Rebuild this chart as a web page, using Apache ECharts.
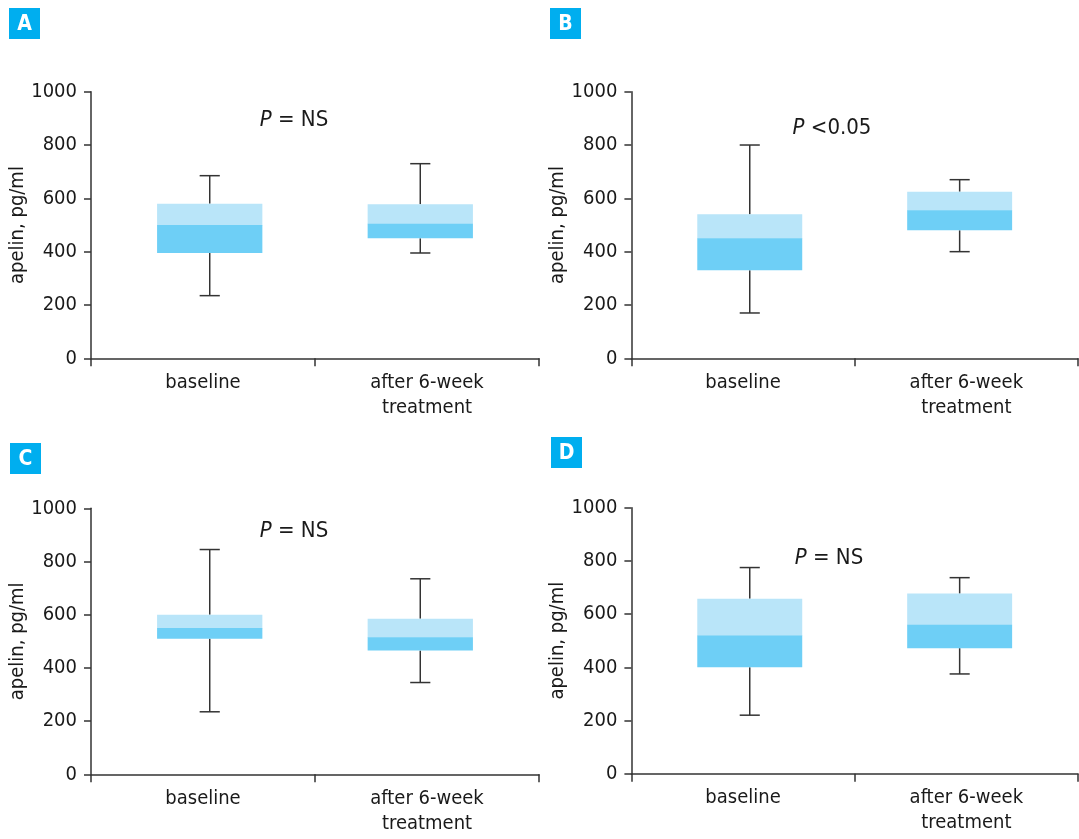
<!DOCTYPE html>
<html>
<head>
<meta charset="utf-8">
<script src="https://cdn.jsdelivr.net/npm/echarts@6/dist/echarts.min.js"></script>
<style>
html,body{margin:0;padding:0;background:#fff;}
#chart{width:1079px;height:839px;}
</style>
</head>
<body>
<div id="chart"></div>
<script>
// ---- data ----
const categories = ['baseline', 'after 6-week\ntreatment'];
const yTicks = [0, 200, 400, 600, 800, 1000];
const panelLetters = ['A', 'B', 'C', 'D'];
const pTexts = ['= NS', '<0.05', '= NS', '= NS'];
// each entry: [whisker low, Q1, median, Q3, whisker high]
const panelA = [[235, 395, 500, 580, 685], [395, 450, 505, 578, 730]];
const panelB = [[170, 330, 450, 540, 800], [400, 480, 555, 625, 670]];
const panelC = [[235, 510, 550, 600, 845], [345, 465, 515, 585, 735]];
const panelD = [[220, 400, 520, 658, 775], [375, 472, 560, 677, 737]];
const panels = [panelA, panelB, panelC, panelD];

// ---- style / layout ----
const FONT = "'DejaVu Sans Condensed', 'Liberation Sans Narrow', 'Arial Narrow', sans-serif";
const TXT = '#1a1a1a';
const AX = '#333333';
const LIGHT = '#b9e5f9';
const DARK = '#6ecff6';
const BADGE = '#00aeef';
const grids = [
  {left: 91, top: 91.7, width: 448, height: 266.6},
  {left: 631.4, top: 91.7, width: 446.6, height: 266.6},
  {left: 91, top: 508.3, width: 448, height: 266},
  {left: 631.4, top: 507.7, width: 446.6, height: 266}
];
const badgePos = [[9, 8], [550, 8], [10, 443], [551, 437]];
const pPos = [[294, 120], [832, 128], [294, 531], [829, 558]];

function renderBox(params, api) {
  const x = api.value(0);
  const low = api.coord([x, api.value(1)]);
  const q1 = api.coord([x, api.value(2)]);
  const med = api.coord([x, api.value(3)]);
  const q3 = api.coord([x, api.value(4)]);
  const high = api.coord([x, api.value(5)]);
  const band = api.size([1, 0])[0];
  const w = band * 0.47;
  const cap = band * 0.09;
  const cx = low[0] + (x === 0 ? 1 : -1) * band * 0.03;
  const ls = {stroke: AX, lineWidth: 1.5};
  return {
    type: 'group',
    children: [
      {type: 'line', shape: {x1: cx, y1: high[1], x2: cx, y2: q3[1]}, style: ls},
      {type: 'line', shape: {x1: cx, y1: q1[1], x2: cx, y2: low[1]}, style: ls},
      {type: 'line', shape: {x1: cx - cap / 2, y1: high[1], x2: cx + cap / 2, y2: high[1]}, style: ls},
      {type: 'line', shape: {x1: cx - cap / 2, y1: low[1], x2: cx + cap / 2, y2: low[1]}, style: ls},
      {type: 'rect', shape: {x: cx - w / 2, y: q3[1], width: w, height: med[1] - q3[1] + 0.5}, style: {fill: LIGHT}},
      {type: 'rect', shape: {x: cx - w / 2, y: med[1], width: w, height: q1[1] - med[1]}, style: {fill: DARK}}
    ]
  };
}

const option = {
  backgroundColor: '#fff',
  animation: false,
  textStyle: {fontFamily: FONT, color: TXT},
  grid: grids,
  xAxis: grids.map((g, i) => ({
    type: 'category',
    gridIndex: i,
    data: categories,
    boundaryGap: true,
    axisLine: {lineStyle: {color: AX, width: 1.5}},
    axisTick: {show: true, inside: false, length: 8, lineStyle: {color: AX, width: 1.5}},
    axisLabel: {fontFamily: FONT, fontSize: 20, color: TXT, margin: 12, lineHeight: 25, interval: 0},
    splitLine: {show: false}
  })),
  yAxis: grids.map((g, i) => ({
    type: 'value',
    gridIndex: i,
    min: yTicks[0],
    max: yTicks[yTicks.length - 1],
    interval: yTicks[1] - yTicks[0],
    name: 'apelin, pg/ml',
    nameLocation: 'middle',
    nameGap: 55,
    nameTextStyle: {fontFamily: FONT, fontSize: 20, color: TXT},
    axisLine: {show: true, lineStyle: {color: AX, width: 1.5}},
    axisTick: {show: true, inside: false, length: 7, lineStyle: {color: AX, width: 1.5}},
    axisLabel: {fontFamily: FONT, fontSize: 20, color: TXT, margin: 14, formatter: v => String(v)},
    splitLine: {show: false}
  })),
  series: panels.map((p, i) => ({
    type: 'custom',
    xAxisIndex: i,
    yAxisIndex: i,
    renderItem: renderBox,
    encode: {x: 0, y: [1, 2, 3, 4, 5]},
    data: p.map((v, j) => [j].concat(v)),
    silent: true
  })),
  graphic: [].concat(
    panelLetters.map((l, i) => ({
      type: 'group',
      left: badgePos[i][0],
      top: badgePos[i][1],
      children: [
        {type: 'rect', shape: {x: 0, y: 0, width: 31, height: 31}, style: {fill: BADGE}},
        {type: 'text', x: 15.5, y: 16.5, style: {text: l, fill: '#fff', font: "bold 21px 'Liberation Sans Narrow', 'DejaVu Sans Condensed', sans-serif", align: 'center', verticalAlign: 'middle'}}
      ]
    })),
    pTexts.map((t, i) => ({
      type: 'text',
      x: pPos[i][0],
      y: pPos[i][1],
      style: {
        text: '{it|P} ' + t,
        rich: {it: {fontStyle: 'italic', fontFamily: FONT, fontSize: 22, fill: TXT}},
        font: "22px " + FONT,
        fill: TXT,
        align: 'center',
        verticalAlign: 'middle'
      }
    }))
  )
};

const chart = echarts.init(document.getElementById('chart'), null, {renderer: 'canvas'});
chart.setOption(option);
</script>
</body>
</html>
